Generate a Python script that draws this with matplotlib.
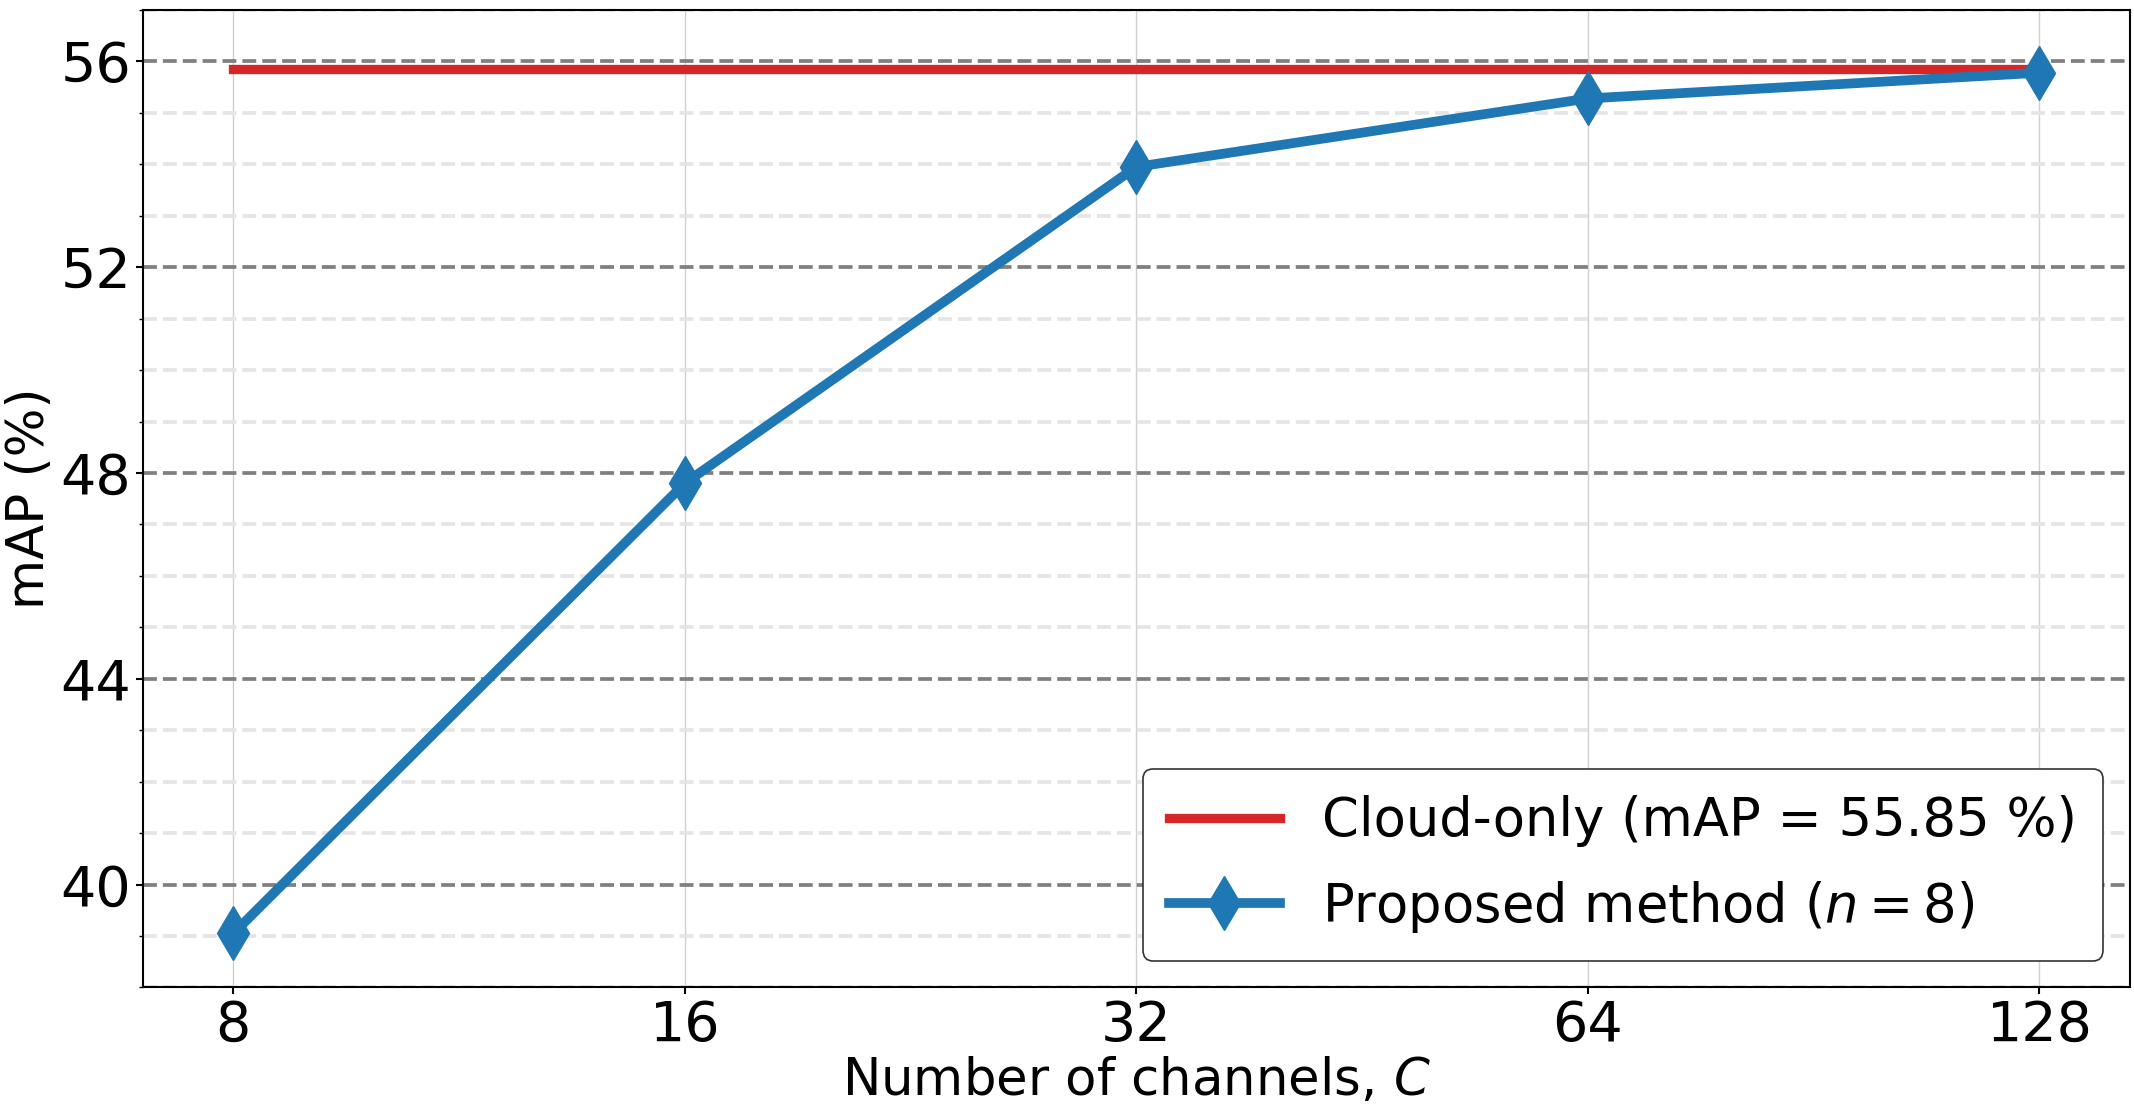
import numpy as np
import matplotlib
matplotlib.use('Agg')
import matplotlib.pyplot as plt
from matplotlib.ticker import MultipleLocator, NullLocator, FixedLocator

# Werte
kanaele = [8, 16, 32, 64, 128]
map_vorschlag = [39.05, 47.8, 53.95, 55.28, 55.78]
map_cloud = 55.85
kanal_labels = ['8', '16', '32', '64', '128']

fig, ax = plt.subplots(figsize=(21.34, 11.07), dpi=100)
fig.subplots_adjust(left=0.067, right=0.998, top=0.991, bottom=0.108)

ax.plot(kanaele, [map_cloud] * len(kanaele), color='#d62728', lw=6.7,
        label=f'Cloud-only (mAP = {map_cloud:.2f} %)', zorder=3)
ax.plot(kanaele, map_vorschlag, color='#1f77b4', lw=7, marker='d', markersize=27,
        label='Proposed method ($n = 8$)', zorder=4)

ax.set_xscale('log', base=2)
ax.xaxis.set_major_locator(FixedLocator(kanaele))
ax.xaxis.set_minor_locator(NullLocator())
ax.set_xticks(kanaele)
ax.set_xticklabels(kanal_labels)

ax.set_ylim(38, 57)
ax.yaxis.set_major_locator(MultipleLocator(4))
ax.yaxis.set_minor_locator(MultipleLocator(1))

# Gitter
ax.grid(True, which='minor', axis='y', color='#e5e5e5', lw=2.7, linestyle='--', zorder=0)
ax.grid(True, which='major', axis='y', color='#808080', lw=2.7, linestyle='--', zorder=1)
ax.grid(True, which='major', axis='x', color='#d0d0d0', lw=1, linestyle='-', zorder=0)
ax.set_axisbelow(True)

ax.tick_params(axis='both', which='major', labelsize=40, length=5, width=1.5)
ax.tick_params(axis='y', which='minor', length=3, width=1)
for s in ax.spines.values():
    s.set_linewidth(1.5)

ax.set_xlabel('Number of channels, $C$', fontsize=37, labelpad=2)
ax.set_ylabel('mAP (%)', fontsize=37)

leg = ax.legend(loc='lower right', fontsize=38, handlelength=2.1, framealpha=1,
                edgecolor='#333333', borderpad=0.5, labelspacing=0.6)
leg.get_frame().set_linewidth(1.2)

fig.savefig('out.png', dpi=100)
